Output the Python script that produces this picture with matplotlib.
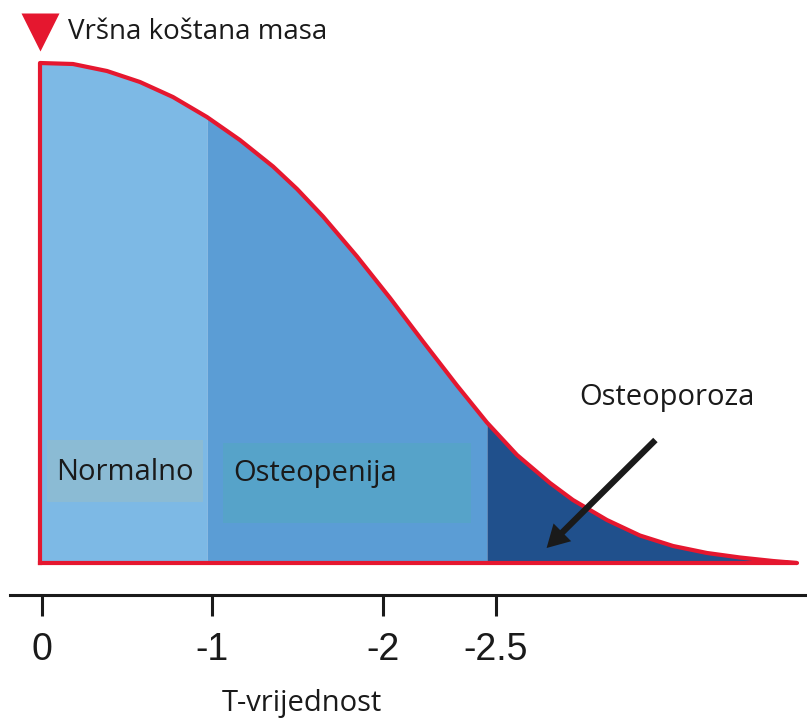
import numpy as np
import matplotlib
matplotlib.use('Agg')
import matplotlib.pyplot as plt
from matplotlib.patches import Rectangle

# curve: position along the axis (1 unit ~ one T step)
# and relative bone mass (1 = peak)
curve_pos = [0.0, 0.194, 0.394, 0.588, 0.782, 0.982, 1.176, 1.371, 1.512,
             1.665, 1.865, 2.059, 2.253, 2.453, 2.629, 2.806, 3.0, 3.135,
             3.335, 3.529, 3.724, 3.924, 4.118, 4.312, 4.453]
curve_val = [1.0, 0.998, 0.984, 0.962, 0.932, 0.892, 0.846, 0.793, 0.748,
             0.693, 0.613, 0.530, 0.443, 0.355, 0.281, 0.216, 0.160, 0.126,
             0.086, 0.055, 0.034, 0.020, 0.011, 0.004, 0.0]

zone_edges = [0.0, 0.982, 2.629, 4.453]
zone_colors = ['#7DB9E5', '#5B9DD5', '#20508C']

tick_pos = [0.01, 1.01, 2.02, 2.68]
tick_labels = ['0', '-1', '-2', '-2.5']

zone_names = ['Normalno', 'Osteopenija']
peak_label = 'Vršna koštana masa'
tail_label = 'Osteoporoza'
axis_label = 'T-vrijednost'

red = '#E5172F'
ink = '#1a1a1a'
txt_font = ['Open Sans', 'DejaVu Sans']

fig = plt.figure(figsize=(8.07, 7.2), dpi=100)
ax = fig.add_axes([0, 0, 1, 1])
ax.set_xlim(-40 / 170, 767 / 170)
ax.set_ylim(-157 / 500, 563 / 500)

x = np.array(curve_pos)
y = np.array(curve_val)

# coloured zones under the curve
for i, c in enumerate(zone_colors):
    m = (x >= zone_edges[i]) & (x <= zone_edges[i + 1])
    ax.fill_between(x[m], 0, y[m], color=c, lw=0, zorder=1)

# label boxes
ax.add_patch(Rectangle((0.041, 0.122), 0.918, 0.124, color='#8BBBD4', lw=0, zorder=2))
ax.add_patch(Rectangle((1.079, 0.08), 1.459, 0.16, color='#56A3C9', lw=0, zorder=2))
ax.text(0.097, 0.182, zone_names[0], fontsize=21, family=txt_font,
        va='center', ha='left', color=ink, zorder=3)
ax.text(1.135, 0.178, zone_names[1], fontsize=21, family=txt_font,
        va='center', ha='left', color=ink, zorder=3)

# red outline
ox = np.concatenate([[0], x, [0]])
oy = np.concatenate([[0], y, [0]])
ax.plot(ox, oy, color=red, lw=3, solid_joinstyle='round', zorder=4)

# peak marker and title
ax.plot([0], [1.062], marker='v', ms=28, color=red, mec='none', zorder=4)
ax.text(0.165, 1.062, peak_label, fontsize=20, family=txt_font,
        va='center', ha='left', color=ink)

# osteoporosis label with arrow
ax.text(3.685, 0.33, tail_label, fontsize=21, family=txt_font,
        va='center', ha='center', color=ink)
ax.annotate('', xy=(2.98, 0.03), xytext=(3.62, 0.246),
            arrowprops=dict(facecolor=ink, edgecolor='none', width=4.5,
                            headwidth=18, headlength=16, shrink=0), zorder=5)

# T axis
for s in ['top', 'left', 'right']:
    ax.spines[s].set_visible(False)
ax.spines['bottom'].set_position(('data', -0.064))
ax.spines['bottom'].set_bounds(-0.176, 767 / 170)
ax.spines['bottom'].set_linewidth(2.2)
ax.spines['bottom'].set_color(ink)
ax.set_yticks([])
ax.set_xticks(tick_pos)
ax.set_xticklabels(tick_labels, family=['Liberation Sans', 'DejaVu Sans'], fontsize=27)
ax.tick_params(axis='x', direction='out', length=15, width=2.2, color=ink,
               pad=12, labelcolor=ink)
ax.patch.set_alpha(0)
ax.text(1.54, -0.28, axis_label, fontsize=21, family=txt_font,
        va='center', ha='center', color=ink)

fig.savefig('out.png', dpi=100)
